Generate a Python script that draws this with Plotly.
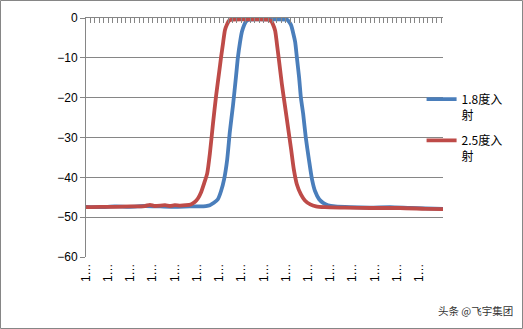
import plotly.graph_objects as go

# Category positions (index along the x category axis) and values (dB)
blue_x = [0.0, 3.2, 6.5, 9.9, 13.3, 16.7, 20.0, 23.4, 25.7, 27.0, 27.9, 28.8, 29.7, 30.4, 31.1, 31.8,
          32.4, 33.1, 33.8, 34.2, 34.7, 35.1, 35.6, 36.0, 36.7, 39.2, 42.6, 45.3, 45.7, 46.2, 46.6,
          47.1, 47.5, 48.0, 48.4, 48.9, 49.5, 50.2, 50.9, 51.6, 52.5, 53.4, 54.5, 56.1, 59.5, 64.0,
          68.5, 73.0, 76.4, 80.4]
blue_y = [-47.4, -47.5, -47.3, -47.4, -47.2, -47.3, -47.4, -47.3, -47.3, -47.2, -47.0, -46.4, -45.5,
          -43.5, -40.5, -35.5, -28.5, -22, -14.5, -10, -6, -3.5, -1.8, -0.9, -0.45, -0.35, -0.35,
          -0.45, -0.9, -1.8, -3.5, -6, -10, -15, -20, -24, -30, -35.5, -40.5, -43.5, -45.5, -46.4,
          -47, -47.3, -47.5, -47.6, -47.5, -47.7, -47.8, -47.9]

red_x = [0.0, 3.2, 6.5, 9.9, 13.3, 14.4, 15.5, 17.8, 18.9, 20.0, 21.2, 22.5, 23.6, 24.5, 25.2, 25.9,
         26.6, 27.3, 27.9, 28.6, 29.3, 30.0, 30.4, 30.9, 31.3, 31.8, 32.2, 32.9, 36.9, 41.0, 41.7,
         42.1, 42.6, 43.0, 43.5, 44.1, 44.8, 45.5, 46.2, 46.8, 47.5, 48.4, 49.3, 50.5, 51.8, 53.8,
         58.3, 64.0, 70.7, 76.4, 80.4]
red_y = [-47.5, -47.4, -47.4, -47.3, -47.2, -46.9, -47.2, -47.0, -47.2, -47.0, -47.1, -47.0, -46.8,
         -46.2, -45.3, -43.8, -41.5, -39, -34, -26.5, -19.5, -13.5, -10, -6, -3, -1.5, -0.7, -0.4,
         -0.35, -0.4, -0.8, -1.6, -3.2, -6.5, -11, -16.5, -22, -27.5, -33, -38, -41.8, -44.3, -45.8,
         -46.8, -47.3, -47.5, -47.6, -47.7, -47.7, -47.9, -48.0]

series_names = ["1.8度入<br>射", "2.5度入<br>射"]
label_positions = [0, 5, 10, 15, 20, 25, 30, 35, 40, 45, 50, 55, 60, 65, 70, 75]
label_texts = ["1…"] * len(label_positions)
y_ticks = [0, -10, -20, -30, -40, -50, -60]

GRID = "#868686"
X_RANGE = [0, 80.4]

fig = go.Figure()
fig.add_trace(go.Scatter(x=blue_x, y=blue_y, mode="lines", name=series_names[0],
                         legendgroup="a",
                         line=dict(color="#4A7EBB", width=3.8, shape="spline", smoothing=0.6)))
fig.add_trace(go.Scatter(x=red_x, y=red_y, mode="lines", name=series_names[1],
                         legendgroup="b",
                         line=dict(color="#BE4B48", width=3.8, shape="spline", smoothing=0.6)))
# helper trace for the bottom label axis
fig.add_trace(go.Scatter(x=[None], y=[None], xaxis="x2", showlegend=False, hoverinfo="skip"))

fig.update_layout(
    width=523, height=329,
    margin=dict(l=86, r=80, t=18, b=72),
    paper_bgcolor="white", plot_bgcolor="white",
    font=dict(family="Liberation Sans, Arial, sans-serif", size=12, color="black"),
    xaxis=dict(range=X_RANGE, side="top", ticks="inside", tick0=0, dtick=1, ticklen=5,
               tickcolor=GRID, tickwidth=1, showticklabels=False, showline=True, linecolor=GRID,
               linewidth=1, showgrid=False, zeroline=False),
    xaxis2=dict(range=X_RANGE, overlaying="x", side="bottom", anchor="y",
                tickmode="array", tickvals=label_positions, ticktext=label_texts,
                tickangle=-90, ticks="", showline=False, showgrid=False, zeroline=False,
                ticklabelstandoff=3,
                tickfont=dict(size=12, family="Liberation Sans, Arial, sans-serif")),
    yaxis=dict(range=[-60, 0], tickmode="array", tickvals=y_ticks, ticks="outside", ticklen=5,
               tickcolor=GRID, showline=True, linecolor=GRID, linewidth=1, showgrid=True,
               gridcolor=GRID, gridwidth=1, zeroline=False,
               tickfont=dict(size=12)),
    legend=dict(x=0.94, xanchor="left", y=0.72, yanchor="top", valign="top",
                tracegroupgap=7, bgcolor="rgba(0,0,0,0)",
                font=dict(size=12, family="Noto Sans CJK SC, Liberation Sans, sans-serif")),
    showlegend=True,
)

fig.add_annotation(text="头条 @飞宇集团", xref="paper", yref="paper",
                   x=(515 - 86) / 357, y=(257 - 310) / 239, xanchor="right", yanchor="middle",
                   showarrow=False,
                   font=dict(size=10.5, color="#333333", family="Noto Sans CJK SC, sans-serif"))

fig.add_shape(type="rect", xref="paper", yref="paper",
              x0=(0.5 - 86) / 357, x1=(522.5 - 86) / 357,
              y0=(257 - 328.5) / 239, y1=(257 - 0.5) / 239,
              line=dict(color=GRID, width=1), fillcolor="rgba(0,0,0,0)", layer="below")

fig.write_html("out.html")
